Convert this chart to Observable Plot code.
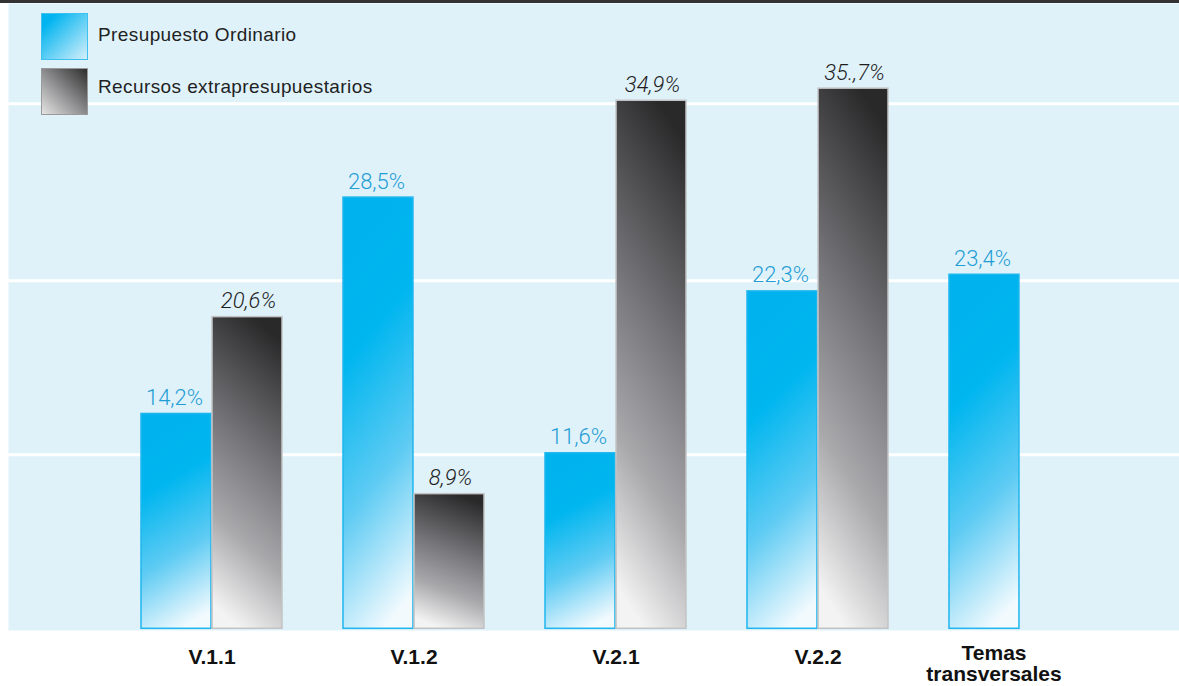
<!DOCTYPE html>
<html>
<head>
<meta charset="utf-8">
<script src="https://cdn.jsdelivr.net/npm/d3@7"></script>
<script src="https://cdn.jsdelivr.net/npm/@observablehq/plot@0.6"></script>
<style>
  html, body { margin: 0; padding: 0; background: #fff; }
  #wrap { position: relative; width: 1179px; height: 686px; overflow: hidden; }
  #legend { position: absolute; left: 0; top: 0; font-family: "Liberation Sans", Arial, sans-serif; color: #222; }
  .sw { position: absolute; left: 41px; width: 45px; height: 45px; }
  .sw.blue { top: 13px; border: 1px solid #3cc0f0; background: linear-gradient(135deg, #00b4ef 15%, #d4effb 100%); }
  .sw.gray { top: 68px; border: 1px solid #9a9a9a; background: linear-gradient(225deg, #2e2e2e 0%, #8a8a8c 50%, #e4e4e4 100%); }
  .lt { position: absolute; left: 98px; font-size: 19px; letter-spacing: 0.4px; line-height: 1; white-space: nowrap; }
</style>
</head>
<body>
<div id="wrap">
  <div id="chart"></div>
  <div id="legend"></div>
</div>
<script>
// ---- data ----
const categories = ["V.1.1", "V.1.2", "V.2.1", "V.2.2", "Temas transversales"];
const seriesNames = ["Presupuesto Ordinario", "Recursos extrapresupuestarios"];
const ordinarioValues = [14.2, 28.5, 11.6, 22.3, 23.4];
const ordinarioLabels = ["14,2%", "28,5%", "11,6%", "22,3%", "23,4%"];
const extraValues = [20.6, 8.9, 34.9, 35.7, null];
const extraLabels = ["20,6%", "8,9%", "34,9%", "35.,7%", null];
const gridValues = [11.5, 23, 34.7];

// ---- tables built from the arrays ----
const ordinario = categories.map((c, i) => ({cat: c, value: ordinarioValues[i], label: ordinarioLabels[i]}));
const extra = categories.map((c, i) => ({cat: c, value: extraValues[i], label: extraLabels[i]})).filter(d => d.value != null);
const mainCats = categories.slice(0, 4);
const lastCat = categories.slice(4);

const xRange = [139, 1093];
const padInner = 0.3;
const bw = (xRange[1] - xRange[0]) / (categories.length - padInner) * (1 - padInner);
const half = bw / 2;

const valueFont = "Roboto, 'Liberation Sans', sans-serif";

const chart = Plot.plot({
  width: 1179,
  height: 686,
  marginTop: 3,
  marginBottom: 56,
  marginLeft: 8,
  marginRight: 0,
  style: {background: "transparent", fontFamily: "'Liberation Sans', Arial, sans-serif", overflow: "visible"},
  x: {type: "band", domain: categories, range: xRange, paddingInner: padInner, paddingOuter: 0, axis: null},
  y: {domain: [0, 40], range: [628.3, 23.1], axis: null},
  marks: [
    Plot.frame({fill: "#dff2fa", stroke: "none"}),
    Plot.ruleY(gridValues, {stroke: "#ffffff", strokeWidth: 3}),
    Plot.barY(ordinario, {x: "cat", y: "value", fill: "url(#gBlue)", stroke: "#1fb6ee", strokeWidth: 1.5, insetRight: half}),
    Plot.barY(extra, {x: "cat", y: "value", fill: "url(#gGray)", stroke: "#c3c3c5", strokeWidth: 1.5, insetLeft: half}),
    Plot.text(ordinario, {x: "cat", y: "value", text: "label", dx: -half / 2 - 2, dy: -9, lineAnchor: "bottom",
      fill: "#1f9dd5", fontSize: 22, fontWeight: 300, fontFamily: valueFont}),
    Plot.text(extra, {x: "cat", y: "value", text: "label", dx: half / 2 + 1, dy: -9, lineAnchor: "bottom",
      fill: "#1e1e1e", fontSize: 22, fontWeight: 300, fontStyle: "italic", fontFamily: valueFont}),
    Plot.text(mainCats, {x: d => d, y: () => 0, text: d => d, dy: 35, lineAnchor: "bottom",
      fontSize: 21, fontWeight: "bold", fill: "#111"}),
    Plot.text(lastCat, {x: d => d, y: () => 0, text: d => d.replace(" ", "\n"), dy: 52, dx: -26, lineAnchor: "bottom",
      lineHeight: 1, fontSize: 21, fontWeight: "bold", letterSpacing: 0.9, fill: "#111"})
  ]
});

document.getElementById("chart").appendChild(chart);

// gradient definitions for the bar fills
const svg = d3.select(chart.tagName.toLowerCase() === "svg" ? chart : chart.querySelector("svg"));
const defs = svg.insert("defs", ":first-child");
const gb = defs.append("linearGradient").attr("id", "gBlue").attr("x1", 0.4).attr("y1", 0).attr("x2", 0.6).attr("y2", 1);
[[0, "#00b2ee"], [0.3, "#00b6ef"], [0.65, "#5ecbf3"], [1, "#f2fafe"]].forEach(([o, c]) => gb.append("stop").attr("offset", o).attr("stop-color", c));
const gg = defs.append("linearGradient").attr("id", "gGray").attr("x1", 0.6).attr("y1", 0).attr("x2", 0.4).attr("y2", 1);
[[0, "#2a292a"], [0.42, "#76767a"], [0.72, "#a9a9ac"], [1, "#f3f3f3"]].forEach(([o, c]) => gg.append("stop").attr("offset", o).attr("stop-color", c));

// legend (HTML overlay)
const legend = d3.select("#legend");
legend.append("div").attr("class", "sw blue");
legend.append("div").attr("class", "sw gray");
legend.append("div").attr("class", "lt").style("top", "25px").text(seriesNames[0]);
legend.append("div").attr("class", "lt").style("top", "77px").text(seriesNames[1]);
</script>
<div style="position:absolute;left:0;top:0;width:1179px;height:3px;background:#333;"></div>
</body>
</html>
